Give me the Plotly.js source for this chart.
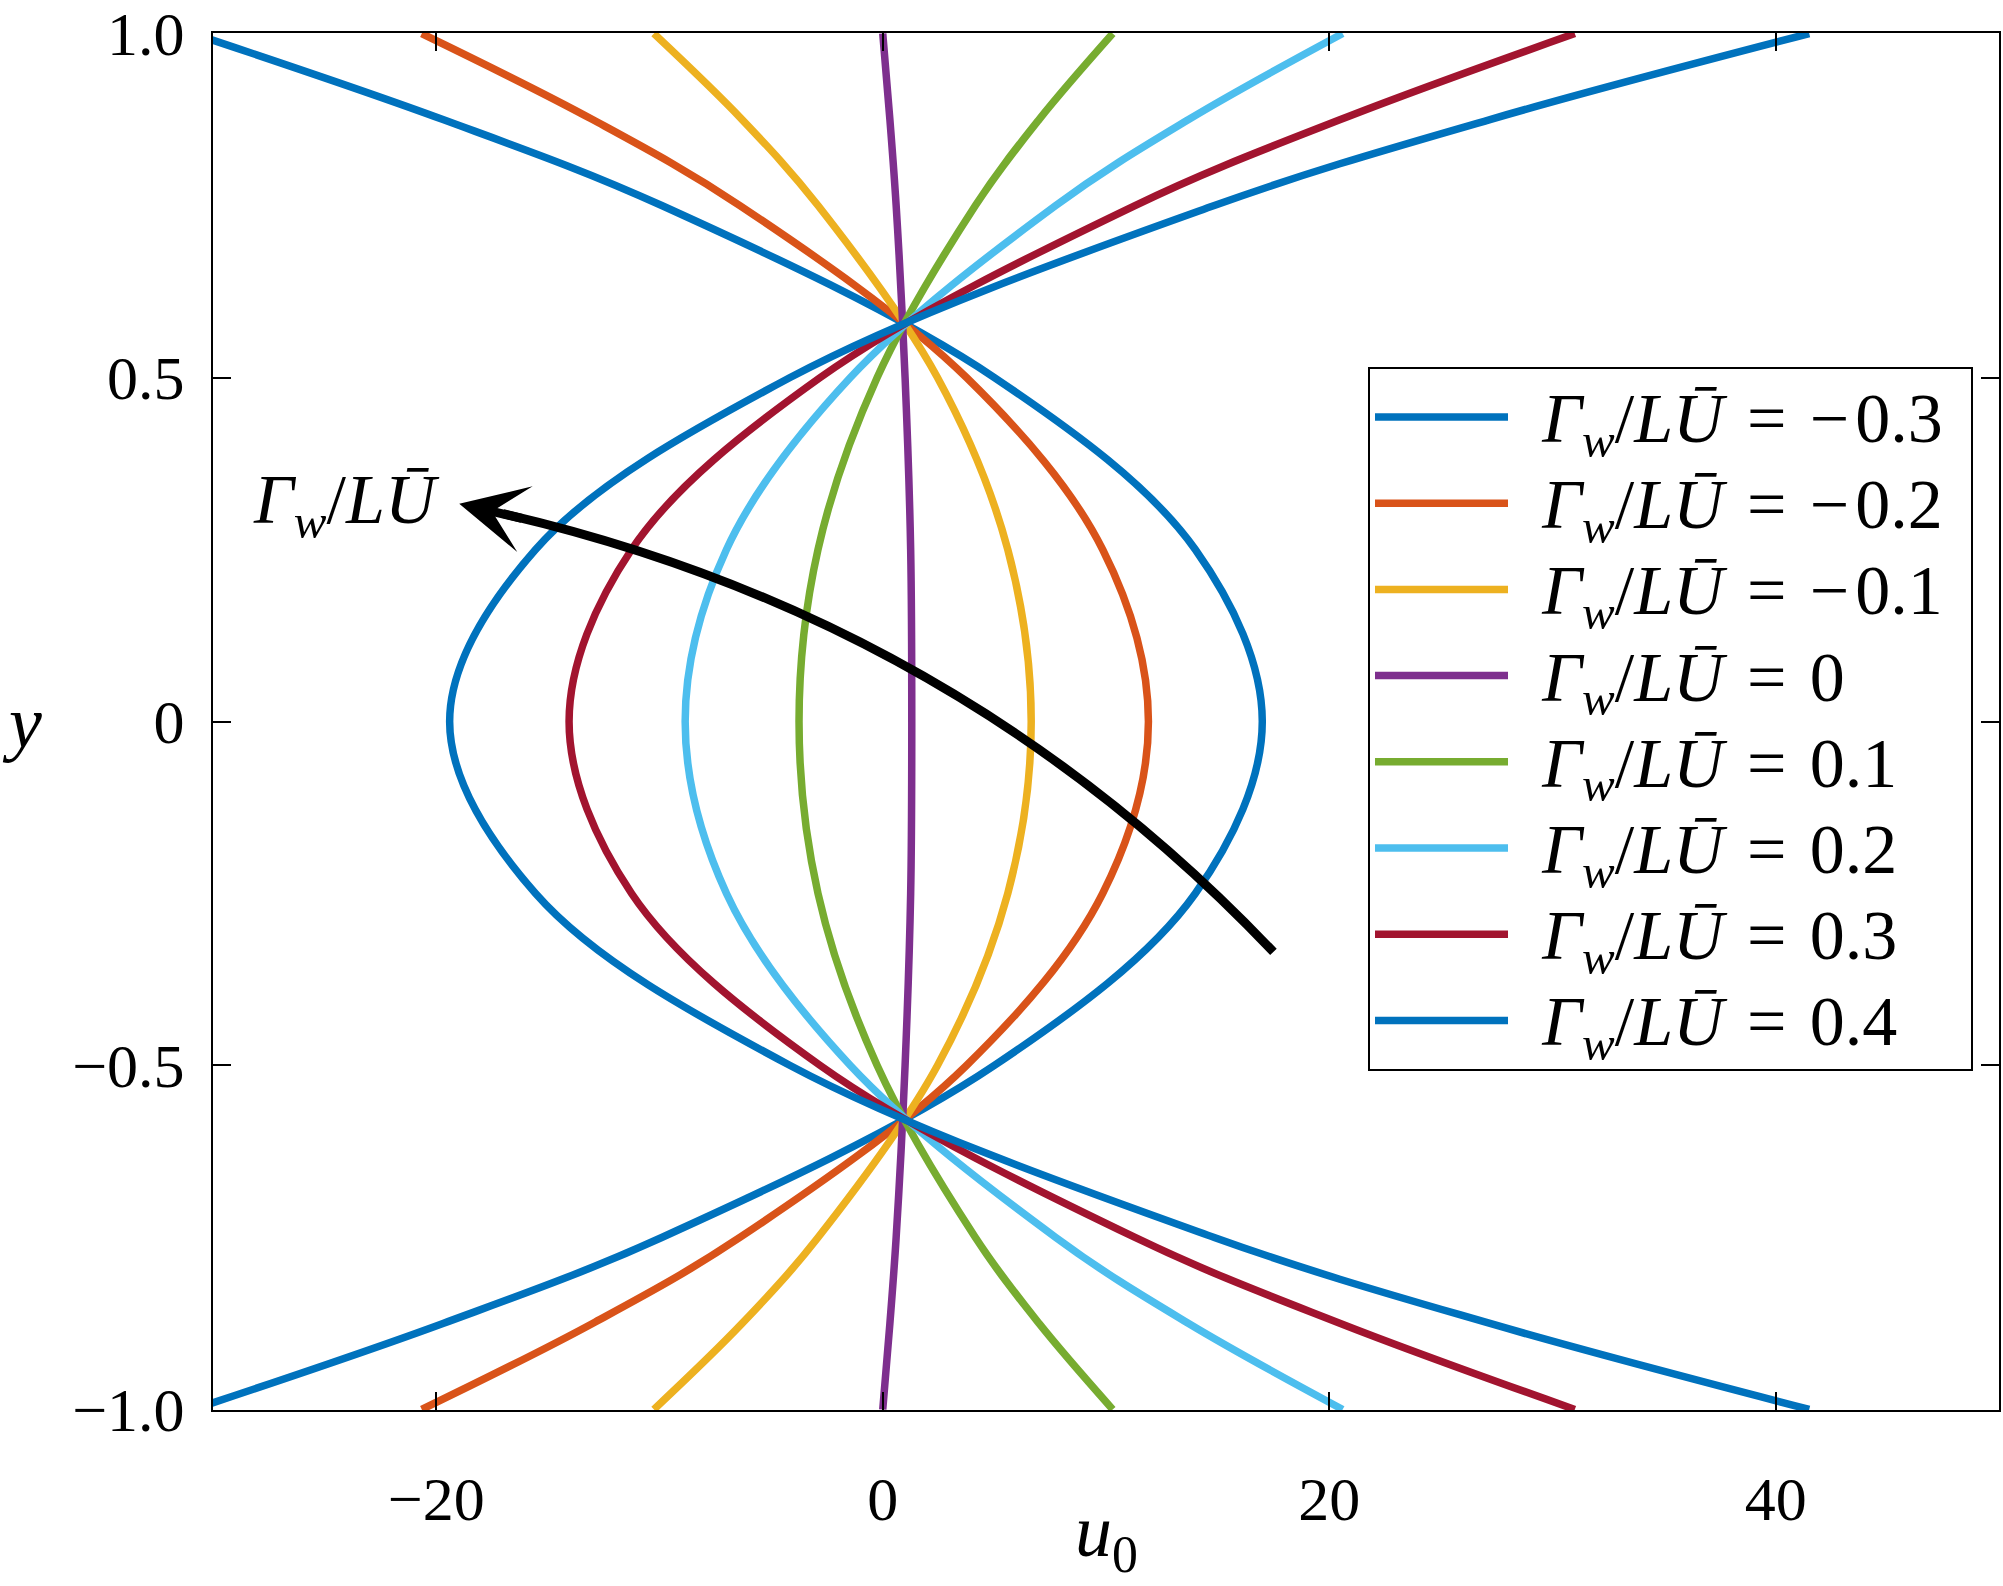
<!DOCTYPE html>
<html>
<head>
<meta charset="utf-8">
<script src="https://cdn.plot.ly/plotly-3.0.1.min.js"></script>
<style>
  html, body { margin: 0; padding: 0; background: #fff; }
</style>
</head>
<body>
<div id="chart" style="width:2003px;height:1586px"></div>
<script>
const yLevels = [-1, -0.875, -0.75, -0.5, -0.25, 0, 0.25, 0.5, 0.75, 0.875, 1];

// Gamma_w / (L Ubar) values, one profile each
const gammaLabels = ["−\u200a0.3", "−\u200a0.2", "−\u200a0.1", "0", "0.1", "0.2", "0.3", "0.4"];

// u0 read at yLevels
const uGm03 = [-30.9, -19.7, -9.9, 5.0, 14.0, 17.0, 14.0, 5.0, -9.9, -19.7, -30.9];
const uGm02 = [-20.65, -13.0, -6.4, 3.75, 9.85, 11.9, 9.85, 3.75, -6.4, -13.0, -20.65];
const uGm01 = [-10.25, -6.3, -2.9, 2.45, 5.6, 6.65, 5.6, 2.45, -2.9, -6.3, -10.25];
const uG0   = [0.0, 0.32, 0.6, 1.0, 1.25, 1.3, 1.25, 1.0, 0.6, 0.32, 0.0];
const uG01  = [10.3, 7.0, 4.15, -0.25, -2.9, -3.75, -2.9, -0.25, 4.15, 7.0, 10.3];
const uG02  = [20.6, 13.7, 7.75, -1.45, -7.0, -8.85, -7.0, -1.45, 7.75, 13.7, 20.6];
const uG03  = [31.0, 20.5, 11.3, -2.8, -11.25, -14.05, -11.25, -2.8, 11.3, 20.5, 31.0];
const uG04  = [41.5, 27.2, 14.85, -4.15, -15.55, -19.4, -15.55, -4.15, 14.85, 27.2, 41.5];

const profiles = [uGm03, uGm02, uGm01, uG0, uG01, uG02, uG03, uG04];

// matlab default colour order (wraps after 7)
const colors = ["#0072BD", "#D95319", "#EDB120", "#7E2F8E", "#77AC30", "#4DBEEE", "#A2142F", "#0072BD"];

// axis ticks
const xTicks = [-20, 0, 20, 40];
const xTickText = ["−20", "0", "20", "40"];
const yTicks = [-1, -0.5, 0, 0.5, 1];
const yTickText = ["−1.0", "−0.5", "0", "0.5", "1.0"];

const SERIF = "Liberation Serif";
const GAMMA = "<i>Γ<sub>w</sub></i>/<i>LŪ</i>";

// legend rows are spaced by legend.font.size, glyphs drawn a bit bigger
const traces = profiles.map((u, i) => ({
  x: u,
  y: yLevels,
  type: "scatter",
  mode: "lines",
  line: { color: colors[i], width: 7.5, shape: "spline", smoothing: 1 },
  name: '<span style="font-size:70px">\u2004\u200a' + GAMMA + "\u2004=\u2004" + gammaLabels[i] + "\u2004</span>",
  hoverinfo: "skip",
}));

// curved arrow (data coords): start, control, end of shaft
const arrowStart = [17.5, -0.335];
const arrowCtrl = [3.3, 0.15];
const arrowEnd = [-17.0, 0.302];
const arrowTip = [-18.97, 0.3165];

const layout = {
  width: 2003,
  height: 1586,
  margin: { l: 213, r: 4, t: 33, b: 176 },
  paper_bgcolor: "#fff",
  plot_bgcolor: "#fff",
  font: { family: SERIF, size: 62, color: "#000" },
  showlegend: true,
  xaxis: {
    range: [-30, 50],
    tickvals: xTicks,
    ticktext: xTickText,
    ticks: "inside",
    ticklen: 18,
    tickwidth: 2,
    tickcolor: "#000",
    showline: true,
    linewidth: 2,
    linecolor: "#000",
    mirror: "ticks",
    showgrid: false,
    zeroline: false,
    ticklabelstandoff: 34,
  },
  yaxis: {
    range: [-1.0008, 1.0008],
    tickvals: yTicks,
    ticktext: yTickText,
    ticks: "inside",
    ticklen: 18,
    tickwidth: 2,
    tickcolor: "#000",
    showline: true,
    linewidth: 2,
    linecolor: "#000",
    mirror: "ticks",
    showgrid: false,
    zeroline: false,
    ticklabelstandoff: 14,
  },
  legend: {
    x: 0.6467,
    y: 0.7575,
    xanchor: "left",
    yanchor: "top",
    bgcolor: "#fff",
    bordercolor: "#000",
    borderwidth: 2,
    font: { family: SERIF, size: 64, color: "#000" },
    traceorder: "normal",
    itemwidth: 133,
  },
  shapes: [
    {
      type: "path",
      xref: "x",
      yref: "y",
      path: "M " + arrowStart.join(",") + " Q " + arrowCtrl.join(",") + " " + arrowEnd.join(","),
      line: { color: "#000", width: 9 },
    },
  ],
  annotations: [
    {
      x: arrowTip[0],
      y: arrowTip[1],
      xref: "x",
      yref: "y",
      text: "",
      showarrow: true,
      arrowhead: 3,
      arrowwidth: 9,
      arrowsize: 1.25,
      arrowcolor: "#000",
      ax: 64,
      ay: 15,
      standoff: 0,
    },
    {
      x: -24.0,
      y: 0.314,
      xref: "x",
      yref: "y",
      text: GAMMA,
      showarrow: false,
      xanchor: "center",
      yanchor: "middle",
      font: { family: SERIF, size: 70, color: "#000" },
    },
    {
      x: -0.107,
      y: 0.5,
      xref: "paper",
      yref: "paper",
      text: "<i>y</i>",
      showarrow: false,
      xanchor: "center",
      yanchor: "middle",
      font: { family: SERIF, size: 74, color: "#000" },
    },
    {
      x: 0.5,
      y: -0.127,
      xref: "paper",
      yref: "paper",
      text: "<i>u</i><sub>0</sub>",
      showarrow: false,
      xanchor: "center",
      yanchor: "bottom",
      font: { family: SERIF, size: 74, color: "#000" },
    },
  ],
};

Plotly.newPlot("chart", traces, layout, { staticPlot: true, displayModeBar: false });
</script>
</body>
</html>
